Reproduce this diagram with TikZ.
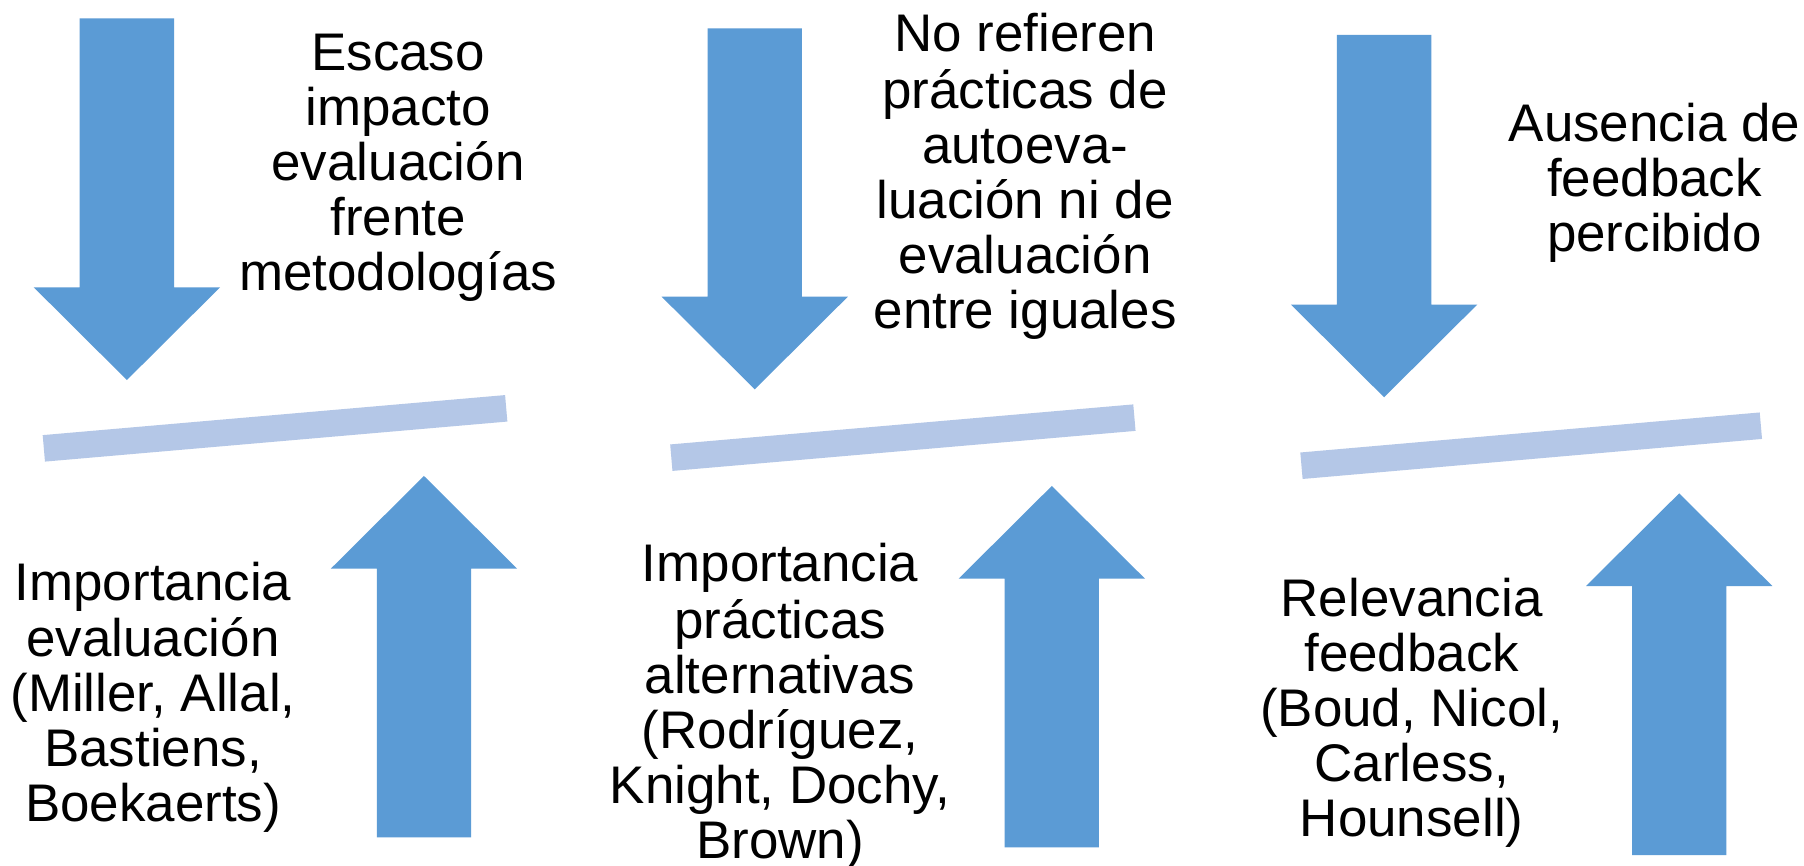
\documentclass[tikz,border=0pt]{standalone}
\usepackage{fontspec}
\setmainfont{Liberation Sans}
\definecolor{arrowblue}{HTML}{5B9BD5}
\definecolor{barblue}{HTML}{B4C7E7}
\tikzset{
  arrowshape/.style={fill=arrowblue, draw=none},
  barshape/.style={draw=barblue, line width=23.1pt, line cap=butt},
  txt/.style={align=center, inner sep=0pt, anchor=north, text=black,
    font=\fontsize{46}{47.8}\selectfont}
}
\newcommand\DnArrow[3]{% centre x, top y, tip y
  \fill[arrowshape] ({#1-41},#2) -- ({#1+41},#2) -- ({#1+41},{#3-80.6})
    -- ({#1+81},{#3-80.6}) -- (#1,#3) -- ({#1-81},{#3-80.6})
    -- ({#1-41},{#3-80.6}) -- cycle;}
\newcommand\UpArrow[3]{% centre x, tip y, bottom y
  \fill[arrowshape] ({#1-41},#3) -- ({#1+41},#3) -- ({#1+41},{#2+80.6})
    -- ({#1+81},{#2+80.6}) -- (#1,#2) -- ({#1-81},{#2+80.6})
    -- ({#1-41},{#2+80.6}) -- cycle;}
\begin{document}
\begin{tikzpicture}[x=1pt,y=-1pt]
  \fill[white] (0,0) rectangle (1568,752.7);
  \useasboundingbox (0,0) rectangle (1568,752.7);

  % arrows
  \DnArrow{110.3}{15.9}{330.3}
  \DnArrow{656}{24.6}{338.4}
  \DnArrow{1203}{30.4}{345.3}
  \UpArrow{368.5}{413.7}{727.8}
  \UpArrow{914.2}{422.4}{736.5}
  \UpArrow{1459.5}{428.8}{743.2}

  % bars
  \draw[barshape] (38.1,389.7) -- (440,354.9);
  \draw[barshape] (583.5,397.8) -- (986,363);
  \draw[barshape] (1131.2,404.8) -- (1530.5,370);

  % texts
  \node[txt] (t1) at (346,27.3) {\strut Escaso\\impacto\\evaluación\\frente\\metodologías};
  \node[txt] (t3) at (891,11.4) {\strut No refieren\\prácticas de\\autoeva-\\luación ni de\\evaluación\\entre iguales};
  \node[txt] (t5) at (1438,89.6) {\strut Ausencia de\\feedback\\percibido};
  \node[txt] (t2) at (133,488) {\strut Importancia\\evaluación\\(Miller, Allal,\\Bastiens,\\Boekaerts)};
  \node[txt] (t4) at (678,472.1) {\strut Importancia\\prácticas\\alternativas\\(Rodríguez,\\Knight, Dochy,\\Brown)};
  \node[txt] (t6) at (1227,502.5) {\strut Relevancia\\feedback\\(Boud, Nicol,\\Carless,\\Hounsell)};
\end{tikzpicture}
\end{document}
